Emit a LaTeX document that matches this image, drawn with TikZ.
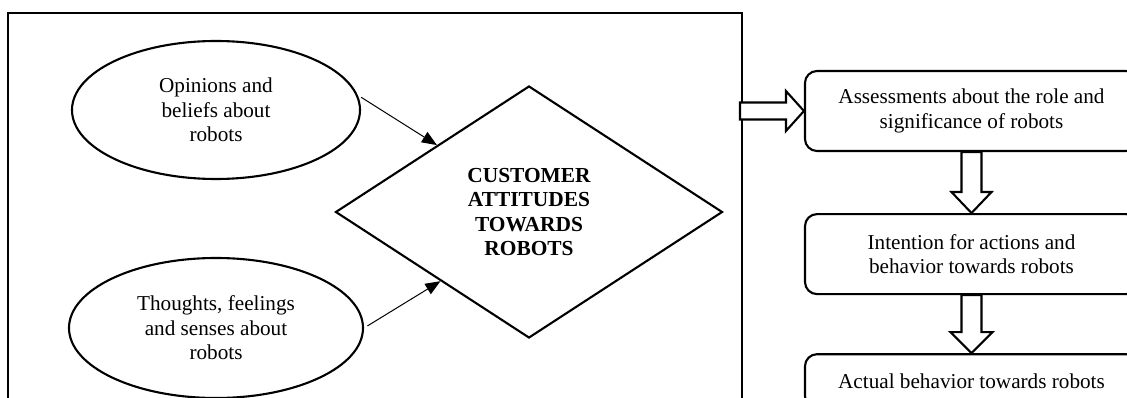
\documentclass[tikz,border=0pt]{standalone}
\usepackage{fontspec}
\setmainfont{Liberation Serif}
\usetikzlibrary{shapes.geometric,positioning,arrows.meta}

\begin{document}
\begin{tikzpicture}[x=1pt,y=-1pt,
  every node/.style={font=\fontsize{21.2}{24.5}\selectfont},
  belief/.style={ellipse,draw,line width=2.1pt,minimum width=288pt,minimum height=138pt,inner sep=0pt,align=center},
  core/.style={diamond,draw,line width=2.1pt,minimum width=387pt,minimum height=252pt,inner sep=0pt,align=center,font=\fontsize{21.4}{24.5}\selectfont\bfseries},
  stage/.style={rectangle,rounded corners=12pt,draw,line width=2.1pt,minimum width=333pt,minimum height=80pt,align=center},
  link/.style={-{Triangle[length=15pt,width=12pt]},line width=1pt,shorten <=4pt},
  hollow/.style={draw,fill=white,line width=2.1pt,line join=miter}]
\path[use as bounding box,clip] (0,0) rectangle (1127,398);

% left part: the attitude and what forms it
\node[draw,line width=2.1pt,minimum width=734pt,minimum height=430pt,anchor=north west] (frame) at (7,12) {};
\node[belief] (opin) at (216,110) {Opinions and\\beliefs about\\robots};
\node[belief,minimum width=294pt,minimum height=140pt] (thought) at (216,328) {Thoughts, feelings\\and senses about\\robots};
\node[core] (attit) at (529,212) {CUSTOMER\\ATTITUDES\\TOWARDS\\ROBOTS};

\draw[link] (opin.6) -- (attit.144);
\draw[link] (thought.0) -- (attit.218);

% right part: the stages that follow
\node[stage] (assess) at (971.5,111) {Assessments about the role and\\significance of robots};
\node[stage] (intent) [below=61pt of assess] {Intention for actions and\\behavior towards robots};
\node[stage,minimum height=54pt] (actual) [below=58pt of intent] {Actual behavior towards robots};

\draw[hollow] (assess.west) -- ++(-18,-20) -- ++(0,11.5) -- ++(-46,0) -- ++(0,17) -- ++(46,0) -- ++(0,11.5) -- cycle;
\draw[hollow] (intent.north) -- ++(-20,-21) -- ++(10,0) -- ++(0,-40) -- ++(20,0) -- ++(0,40) -- ++(10,0) -- cycle;
\draw[hollow] (actual.north) -- ++(-21,-21) -- ++(11,0) -- ++(0,-37) -- ++(20,0) -- ++(0,37) -- ++(11,0) -- cycle;
\end{tikzpicture}
\end{document}
